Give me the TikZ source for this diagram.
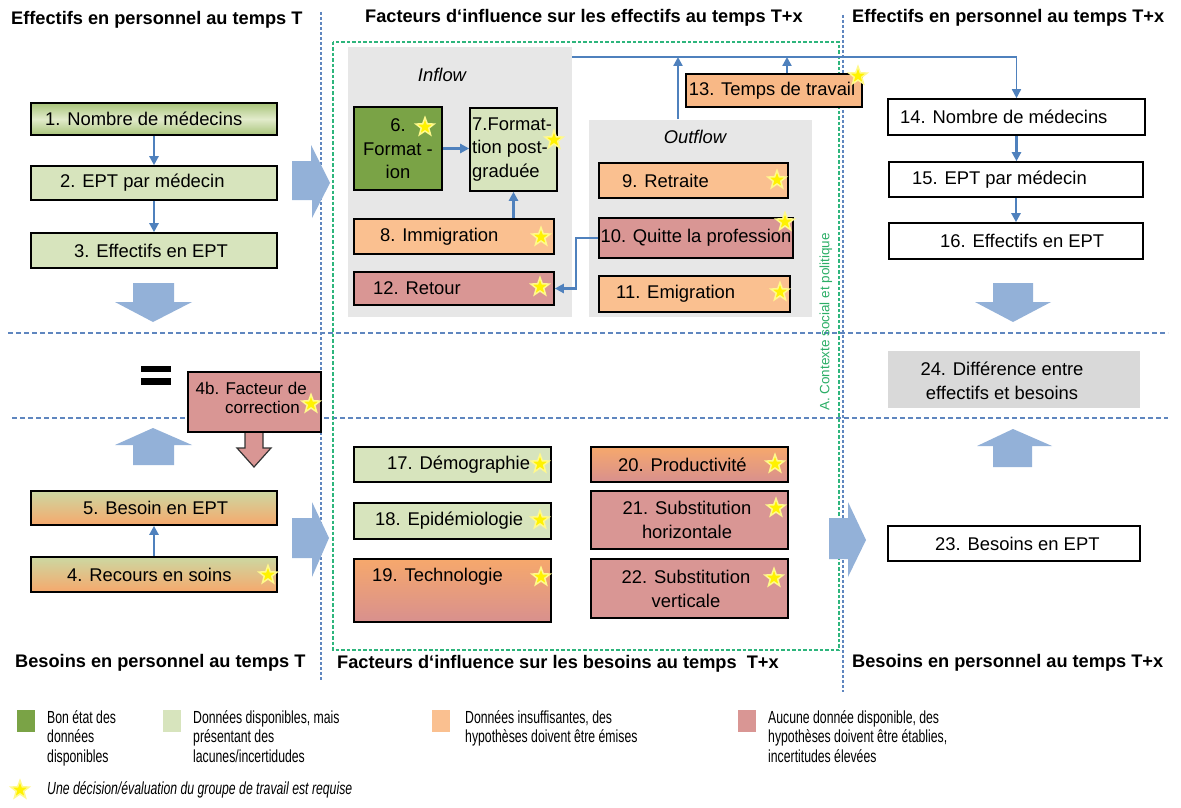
\documentclass[tikz,border=0pt]{standalone}
\usepackage{fontspec}
\setmainfont{Liberation Sans}
\newfontfamily\narrowfont[FakeStretch=0.7]{Liberation Sans}
\usetikzlibrary{arrows.meta,shapes.geometric,calc}
\definecolor{dgreen}{HTML}{7AA346}
\definecolor{lgreen}{HTML}{D7E4BD}
\definecolor{lorange}{HTML}{FAC090}
\definecolor{lorangeb}{HTML}{F8B886}
\definecolor{lred}{HTML}{D99694}
\definecolor{lredb}{HTML}{D8908E}
\definecolor{orng}{HTML}{F6A86C}
\definecolor{olivey}{HTML}{CCD8A2}
\definecolor{gedge}{HTML}{A8C47A}
\definecolor{gmid}{HTML}{E2EBCB}
\definecolor{panel}{HTML}{E7E7E7}
\definecolor{gbox}{HTML}{D9D9D9}
\definecolor{barrow}{HTML}{93B1D8}
\definecolor{conn}{HTML}{4F81BD}
\definecolor{bdash}{HTML}{5F86BF}
\definecolor{gdash}{HTML}{2DB57C}
\definecolor{ctx}{HTML}{2BAE66}
\newcommand\bxfont{\fontsize{18.4}{23.5}\selectfont}
\newcommand\smbxfont{\fontsize{17}{19.5}\selectfont}
\newcommand\ttlfont{\bfseries\fontsize{18.2}{22}\selectfont}
\newcommand\lgfont{\narrowfont\fontsize{17.5}{19.5}\selectfont}
\newcommand\mkbox[6]{\node[bx,#6,minimum width={(#4)-(#2)},minimum height={(#5)-(#3)}] (#1) at ({((#2)+(#4))/2},{((#3)+(#5))/2}) {};}
\newcommand\mkstar[3]{\node[stt] (#1) at (#2,#3) {};}
\tikzset{
 bx/.style={draw=black, line width=1.6pt, inner sep=0pt},
 txt/.style={inner sep=0pt, font=\bxfont, text=black},
 ttl/.style={inner sep=0pt, font=\ttlfont, anchor=west},
 panelbox/.style={fill=panel, draw=none},
 cn/.style={draw=conn, line width=2.4pt, -{Triangle[length=9pt,width=9pt]}},
 bh/.style={draw=bdash, line width=2.6pt, dash pattern=on 5pt off 3pt},
 bv/.style={draw=bdash, line width=2.6pt, dash pattern=on 3pt off 2pt},
 gd/.style={draw=gdash, line width=2.8pt, dash pattern=on 3.5pt off 2pt},
 stt/.style={star, star points=5, star point ratio=2.4, fill=yellow, draw=yellow!45!white, line width=1.5pt, minimum size=19pt, inner sep=0pt},
 blk/.style={fill=barrow, draw=none},
 lsq/.style={draw=none, minimum width=18pt, minimum height=22pt, inner sep=0pt},
 lgt/.style={inner sep=0pt, font=\lgfont, align=left, anchor=north west},
}
\begin{document}
\begin{tikzpicture}[x=1pt,y=-1pt]
\fill[white] (0,0) rectangle (1181,808);
\useasboundingbox (0,0) rectangle (1181,808);

% separators and context frame
\draw[bh] (8,333) -- (1168,333);
\draw[bh] (12,418) -- (1168,418);
\draw[gd] (333,42) rectangle (839,650);
\draw[bv] (321,12) -- (321,680);
\draw[bv] (843,15) -- (843,692);
\node[rotate=90, text=ctx, inner sep=0pt, font=\fontsize{13.5}{15}\selectfont] (ctxt) at (826,322) {A. Contexte social et politique};

% titles
\node[ttl] (T1) at (11,20) {Effectifs en personnel au temps T};
\node[ttl] (T2) at (365,18) {Facteurs d‘influence sur les effectifs au temps T+x};
\node[ttl] (T3) at (852,18) {Effectifs en personnel au temps T+x};
\node[ttl] (T4) at (15,663) {Besoins en personnel au temps T};
\node[ttl] (T5) at (337,664) {Facteurs d‘influence sur les besoins au temps\ \ T+x};
\node[ttl] (T6) at (852,663) {Besoins en personnel au temps T+x};

% panels
\mkbox{inflow}{348}{47}{572}{317}{panelbox}
\mkbox{outflow}{589}{120}{812}{317}{panelbox}
\node[txt, font=\itshape\bxfont] (inflowl) at (442,75) {Inflow};
\node[txt, font=\itshape\bxfont] (outflowl) at (695,137) {Outflow};

% block arrows
\fill[blk] (133,283) -- (174,283) -- (174,302) -- (192,302) -- (153,322) -- (115,302) -- (133,302) -- cycle;
\fill[blk] (153,428) -- (192,445) -- (174,445) -- (174,465) -- (133,465) -- (133,445) -- (115,445) -- cycle;
\fill[blk] (993,283) -- (1033,283) -- (1033,302) -- (1051,302) -- (1013,322) -- (975,302) -- (993,302) -- cycle;
\fill[blk] (1013,429) -- (1052,446) -- (1032,446) -- (1032,467) -- (993,467) -- (993,446) -- (977,446) -- cycle;
\fill[blk] (292,161) -- (311,161) -- (311,145) -- (330,183) -- (312,218) -- (312,200) -- (292,200) -- cycle;
\fill[blk] (292,518) -- (312,518) -- (312,502) -- (329,538) -- (312,577) -- (312,558) -- (292,558) -- cycle;
\fill[blk] (829,518) -- (848,518) -- (848,502) -- (866,540) -- (848,577) -- (848,559) -- (829,559) -- cycle;
\filldraw[fill=lred, draw=black!80, line width=1.2pt] (245,431) -- (263,431) -- (263,448) -- (271,448) -- (254,467) -- (237,448) -- (245,448) -- cycle;

% equal sign
\fill[black] (141,366) rectangle (171,372);
\fill[black] (141,378) rectangle (171,385);

% boxes
\mkbox{b1}{31}{103}{277}{135}{top color=gedge, bottom color=gedge, middle color=gmid}
\mkbox{b2}{31}{166}{277}{200}{fill=lgreen}
\mkbox{b3}{31}{233}{277}{268}{fill=lgreen}
\mkbox{b5}{31}{491}{277}{525}{top color=olivey, bottom color=orng}
\mkbox{b4}{31}{557}{277}{592}{top color=olivey, bottom color=orng}
\mkbox{b4b}{188}{372}{321}{432}{fill=lred}
\mkbox{b6}{354}{107}{442}{190}{fill=dgreen}
\mkbox{b7}{470}{108}{557}{191}{fill=lgreen}
\mkbox{b8}{354}{219}{554}{254}{fill=lorange}
\mkbox{b12}{354}{272}{554}{305}{fill=lred}
\mkbox{b9}{599}{163}{788}{198}{fill=lorange}
\mkbox{b10}{599}{218}{793}{258}{fill=lred}
\mkbox{b11}{599}{276}{790}{312}{fill=lorange}
\mkbox{b13}{686}{74}{862}{107}{fill=lorangeb}
\mkbox{b14}{888}{99}{1145}{135}{fill=white}
\mkbox{b15}{889}{162}{1143}{197}{fill=white}
\mkbox{b16}{889}{223}{1143}{259}{fill=white}
\mkbox{b24}{888}{351}{1140}{408}{fill=gbox, draw=none}
\mkbox{b23}{888}{526}{1140}{561}{fill=white}
\mkbox{b17}{354}{447}{551}{482}{fill=lgreen}
\mkbox{b18}{354}{503}{551}{539}{fill=lgreen}
\mkbox{b19}{354}{559}{551}{622}{top color=orng, bottom color=lredb}
\mkbox{b20}{591}{447}{788}{482}{top color=orng, bottom color=lredb}
\mkbox{b21}{591}{491}{788}{549}{fill=lred}
\mkbox{b22}{591}{559}{788}{618}{fill=lred}

% connectors
\draw[cn] (b1.south) -- (b2.north);
\draw[cn] (b2.south) -- (b3.north);
\draw[cn] (b4.north) -- (b5.south);
\draw[cn] (b6.east) -- (b6.east -| b7.west);
\draw[cn] (b8.north -| b7.south) -- (b7.south);
\draw[cn] (b10.west) -- ++(-22,0) |- (b12.east);
\draw[cn] (b14.south) -- (b14.south |- b15.north);
\draw[cn] (b15.south) -- (b16.north);
\coordinate (lA) at (572,57);
\coordinate (lB) at (b14.north |- lA);
\coordinate (j1) at (678,57);
\coordinate (j2) at (787,57);
\draw[draw=conn, line width=1.5pt, -{Triangle[length=9pt,width=9pt]}] (lA) -- (lB) -- (b14.north);
\draw[cn] (outflow.north -| j1) -- (j1);
\draw[cn] (b13.north -| j2) -- (j2);

% texts
\node[txt, anchor=west] (b1t) at (45,119) {1. Nombre de médecins};
\node[txt, anchor=west] (b2t) at (60,183) {2. EPT par médecin};
\node[txt, anchor=west] (b3t) at (74,250.5) {3. Effectifs en EPT};
\node[txt, anchor=west] (b5t) at (83,508) {5. Besoin en EPT};
\node[txt, anchor=west] (b4t) at (67,574.5) {4. Recours en soins};
\node[txt, anchor=east, align=right, font=\smbxfont] (b4bt) at (307,398) {4b. Facteur de\\correction\hspace*{7pt}};
\node[txt, align=center] (b6t) at (398,149) {6.\\Format -\\ion};
\node[txt, anchor=west, align=left] (b7t) at (472,149.5) {7.Format-\\tion post-\\graduée};
\node[txt, anchor=west] (b8t) at (380,236.5) {8. Immigration};
\node[txt, anchor=west] (b12t) at (373,288.5) {12. Retour};
\node[txt, anchor=west] (b9t) at (622,180.5) {9. Retraite};
\node[txt] (b10t) at (696,238) {10. Quitte la profession};
\node[txt, anchor=west] (b11t) at (616,294) {11. Emigration};
\node[txt] (b13t) at (772,91) {13. Temps de travail};
\node[txt, anchor=west] (b14t) at (900,117) {14. Nombre de médecins};
\node[txt, anchor=west] (b15t) at (912,179.5) {15. EPT par médecin};
\node[txt, anchor=west] (b16t) at (940,241) {16. Effectifs en EPT};
\node[txt, align=center] (b24t) at (1002,381) {24. Différence entre\\effectifs et besoins};
\node[txt, anchor=west] (b23t) at (935,543.5) {23. Besoins en EPT};
\node[txt, anchor=west] (b17t) at (387,464.5) {17. Démographie};
\node[txt, anchor=west] (b18t) at (375,521) {18. Epidémiologie};
\node[txt, anchor=west] (b19t) at (372,577) {19. Technologie};
\node[txt, anchor=west] (b20t) at (618,464.5) {20. Productivité};
\node[txt, align=center] (b21t) at (687,520) {21. Substitution\\horizontale};
\node[txt, align=center] (b22t) at (686,589) {22. Substitution\\verticale};

% stars
\mkstar{s6}{425}{127}
\mkstar{s7}{554}{140}
\mkstar{s8}{541}{237}
\mkstar{s12}{540}{287}
\mkstar{s9}{777}{180}
\mkstar{s10}{785}{222}
\mkstar{s11}{780}{292}
\mkstar{s13}{858}{76}
\mkstar{s4b}{311}{404}
\mkstar{s4}{268}{575}
\mkstar{s17}{540}{464}
\mkstar{s18}{540}{520}
\mkstar{s19}{541}{577}
\mkstar{s20}{775}{464}
\mkstar{s21}{776}{508}
\mkstar{s22}{774}{578}

% legend
\node[lsq, fill=dgreen] (lg1) at (26,721) {};
\node[lsq, fill=lgreen] (lg2) at (172,721) {};
\node[lsq, fill=lorange] (lg3) at (441,721) {};
\node[lsq, fill=lred] (lg4) at (747,721) {};
\node[lgt] (lg1t) at (47,710) {Bon état des\\données\\disponibles};
\node[lgt] (lg2t) at (193,710) {Données disponibles, mais\\présentant des\\lacunes/incertidudes};
\node[lgt] (lg3t) at (465,710) {Données insuffisantes, des\\hypothèses doivent être émises};
\node[lgt] (lg4t) at (768,710) {Aucune donnée disponible, des\\hypothèses doivent être établies,\\incertitudes élevées};
\mkstar{lst}{20}{790}
\node[inner sep=0pt, font=\lgfont\itshape, anchor=west] (lstt) at (47,790) {Une décision/évaluation du groupe de travail est requise};
\end{tikzpicture}
\end{document}
